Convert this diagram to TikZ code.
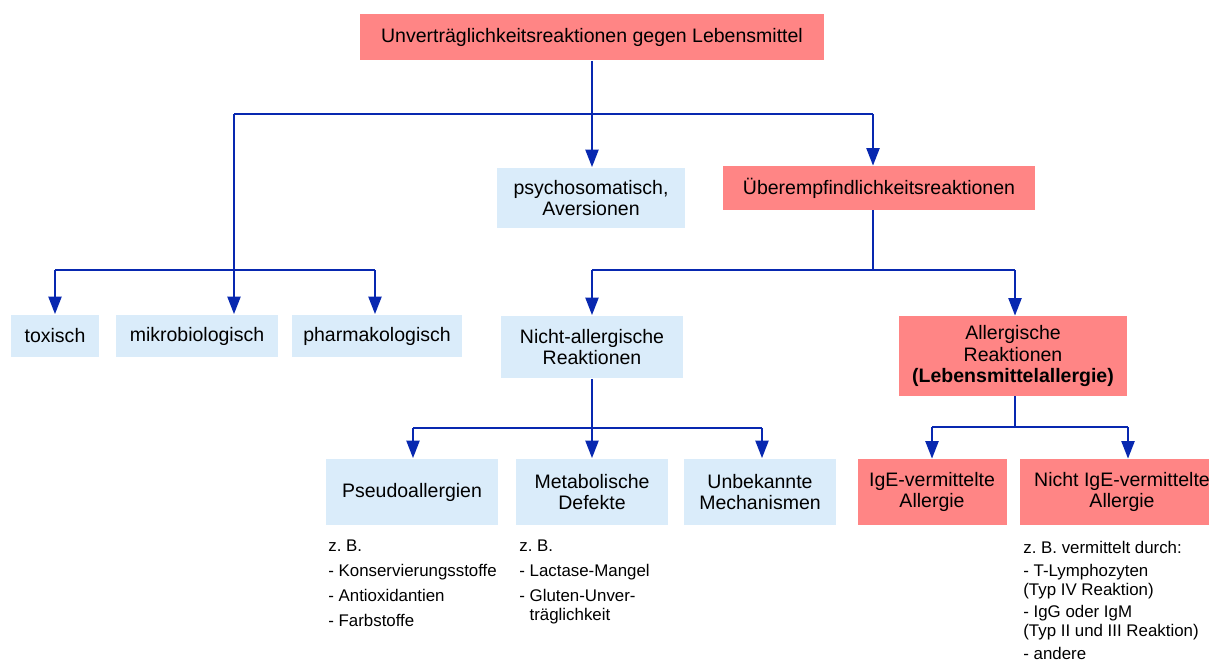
\documentclass[tikz,border=0pt]{standalone}
\usepackage{fontspec}
\setmainfont{Liberation Sans}
\frenchspacing
\usetikzlibrary{arrows.meta}
\usetikzlibrary{positioning}
\definecolor{boxred}{RGB}{255,133,133}
\definecolor{boxblue}{RGB}{218,236,250}
\definecolor{linkblue}{RGB}{8,40,176}

\begin{document}
\begin{tikzpicture}
    [
    x=0.02cm, y=-0.02cm,
    box/.style={inner sep=2pt, align=center, font=\fontsize{11.1}{12}\selectfont},
    redbox/.style={box, fill=boxred},
    bluebox/.style={box, fill=boxblue},
    note/.style={anchor=north west, inner sep=0pt, align=left, font=\fontsize{9.6}{10.6}\selectfont},
    link/.style={linkblue, line width=1.3pt},
    arr/.style={link, -{Triangle[length=10pt,width=7.4pt]}},
    ]
    \useasboundingbox (0,0) rectangle (1209,662);

    \node (top) at (592,37) [redbox, minimum width=9.3cm, minimum height=0.94cm] {Unverträglichkeitsreaktionen gegen Lebensmittel};
    \node (psy) at (591,198) [bluebox, minimum width=3.76cm, minimum height=1.22cm] {psychosomatisch,\\Aversionen};
    \node (ueb) at (879,188) [redbox, minimum width=6.24cm, minimum height=0.88cm] {Überempfindlichkeitsreaktionen};
    \node (tox) at (55,336) [bluebox, minimum width=1.76cm, minimum height=0.86cm] {toxisch};
    \node (mik) at (197,336) [bluebox, minimum width=3.24cm, minimum height=0.86cm] {mikrobiologisch};
    \node (pha) at (377,336) [bluebox, minimum width=3.4cm, minimum height=0.86cm] {pharmakologisch};
    \node (nal) at (592,347) [bluebox, minimum width=3.66cm, minimum height=1.26cm] {Nicht-allergische\\Reaktionen};
    \node (all) at (1013,356) [redbox, minimum width=4.56cm, minimum height=1.6cm] {Allergische\\Reaktionen\\\textbf{(Lebensmittelallergie)}};
    \node (pse) at (412,492) [bluebox, minimum width=3.44cm, minimum height=1.34cm] {Pseudoallergien};
    \node (met) at (592,492) [bluebox, minimum width=3.04cm, minimum height=1.34cm] {Metabolische\\Defekte};
    \node (unb) at (760,492) [bluebox, minimum width=3.06cm, minimum height=1.34cm] {Unbekannte\\Mechanismen};
    \node (ige) at (932,492) [redbox, minimum width=2.98cm, minimum height=1.32cm] {IgE-vermittelte\\Allergie};
    \node (nig) at (1122,492) [redbox, minimum width=4.08cm, minimum height=1.32cm] {Nicht IgE-vermittelte\\Allergie};

    \node (zb1) at (328,540) [note] {z. B.\\[3.6pt]- Konservierungsstoffe\\[3.6pt]- Antioxidantien\\[3.6pt]- Farbstoffe};
    \node (zb2) at (519,540) [note] {z. B.\\[3.6pt]- Lactase-Mangel\\[3.6pt]- Gluten-Unver-\\\phantom{- }träglichkeit};
    \node (zb3) at (1023,541) [note] {z. B. vermittelt durch:\\[2.4pt]- T-Lymphozyten\\(Typ IV Reaktion)\\[2.4pt]- IgG oder IgM\\(Typ II und III Reaktion)\\[2.4pt]- andere};

    \coordinate (j1) at (592,114);
    \coordinate (j1l) at (234,114);
    \coordinate (j1r) at (873,114);
    \draw [link] (top) to (j1);
    \draw [link] (j1l) to (j1r);
    \draw [arr] (j1) to (j1 |- psy.north);
    \draw [arr] (j1r) to (j1r |- ueb.north);
    \draw [arr] (j1l) to (j1l |- mik.north);

    \coordinate (j2l) at (55,270);
    \coordinate (j2r) at (375,270);
    \draw [link] (j2l) to (j2r);
    \draw [arr] (j2l) to (j2l |- tox.north);
    \draw [arr] (j2r) to (j2r |- pha.north);

    \coordinate (j3) at (873,270);
    \coordinate (j3l) at (592,270);
    \coordinate (j3r) at (1015,270);
    \draw [link] (j1r |- ueb.south) to (j3);
    \draw [link] (j3l) to (j3r);
    \draw [arr] (j3l) to (j3l |- nal.north);
    \draw [arr] (j3r) to (j3r |- all.north);

    \coordinate (j4) at (592,428);
    \coordinate (j4l) at (413,428);
    \coordinate (j4r) at (762,428);
    \draw [link] (nal) to (j4);
    \draw [link] (j4l) to (j4r);
    \draw [arr] (j4l) to (j4l |- pse.north);
    \draw [arr] (j4) to (j4 |- met.north);
    \draw [arr] (j4r) to (j4r |- unb.north);

    \coordinate (j5) at (1015,427);
    \coordinate (j5l) at (932,427);
    \coordinate (j5r) at (1128,427);
    \draw [link] (j5 |- all.south) to (j5);
    \draw [link] (j5l) to (j5r);
    \draw [arr] (j5l) to (j5l |- ige.north);
    \draw [arr] (j5r) to (j5r |- nig.north);
  \end{tikzpicture}
\end{document}
